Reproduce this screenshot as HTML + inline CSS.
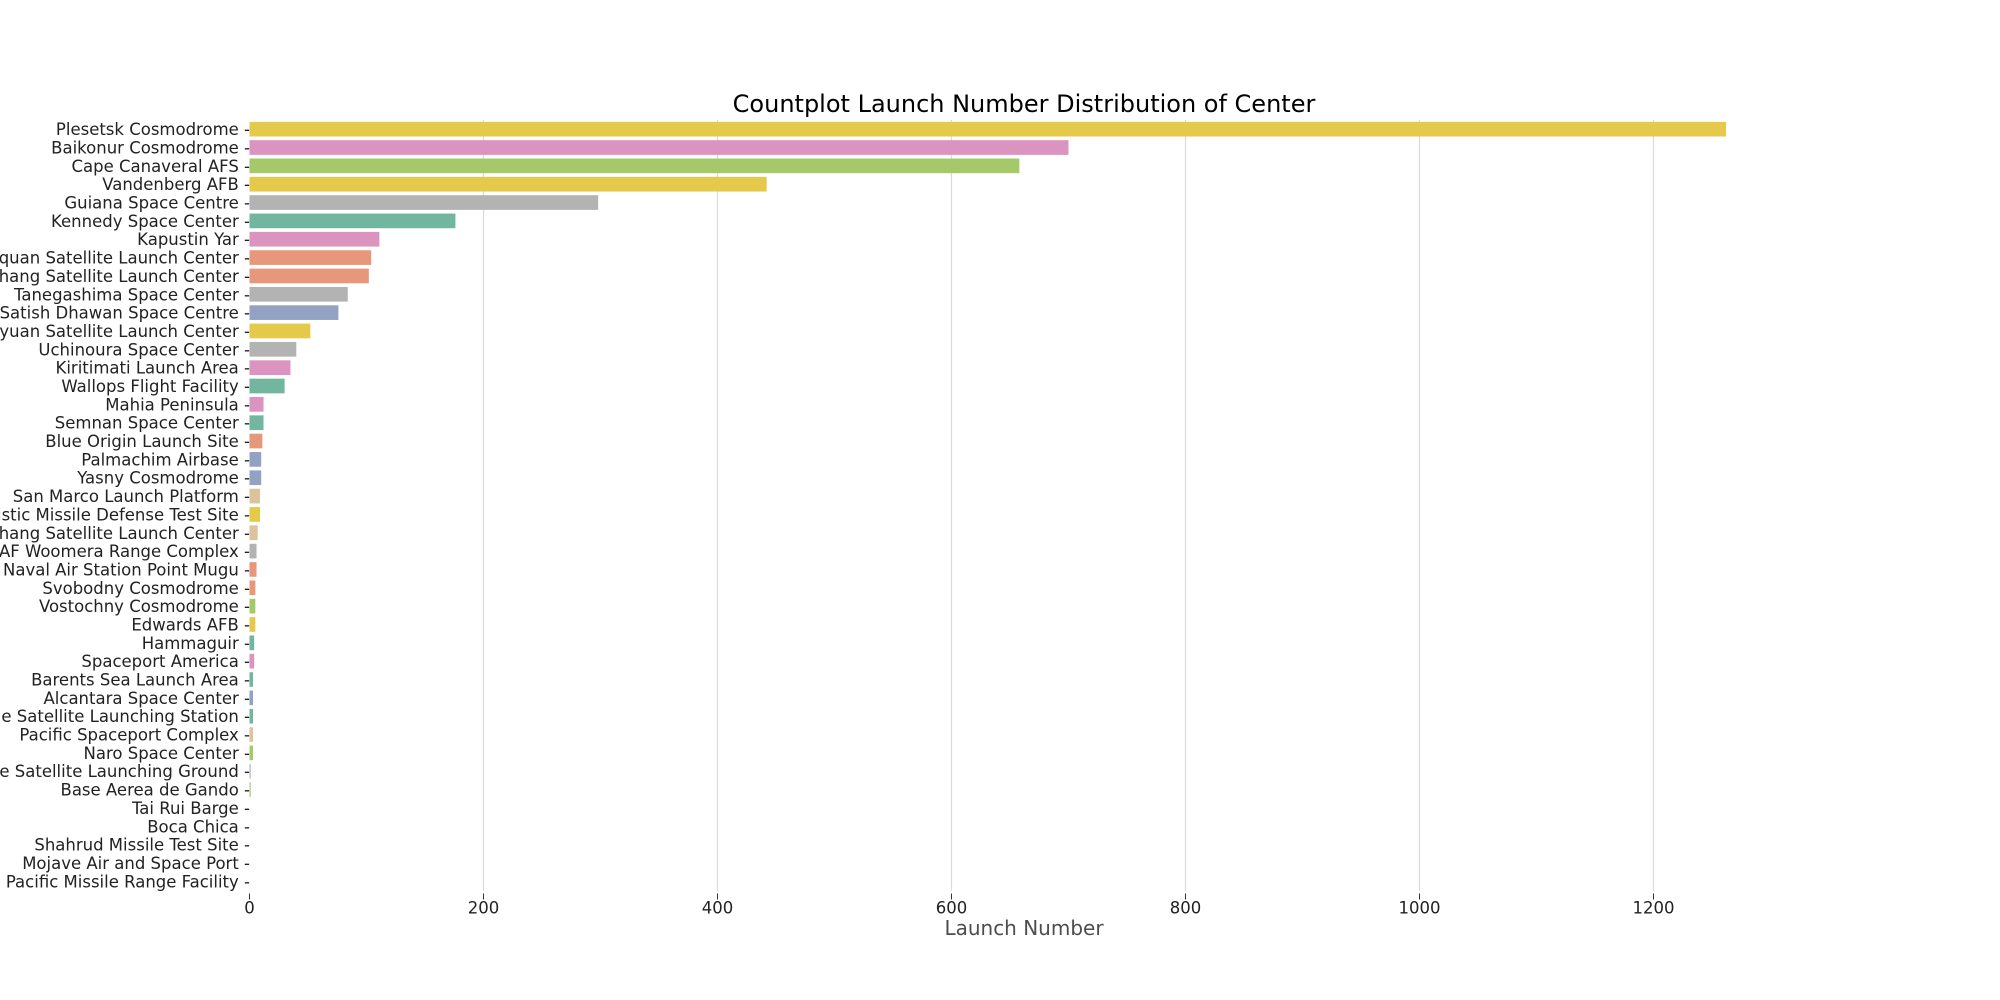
<!DOCTYPE html>
<html><head><meta charset="utf-8"><style>
html,body{margin:0;padding:0;background:#fff;}
svg{display:block;font-family:"DejaVu Sans","Liberation Sans",sans-serif;}
</style></head><body>
<svg id="chart" width="2000" height="1000" viewBox="0 0 2000 1000" xmlns="http://www.w3.org/2000/svg">
<text x="1024" y="112" font-size="24" text-anchor="middle" fill="#000">Countplot Launch Number Distribution of Center</text>
<g id="grid"></g><g id="bars"></g><g id="ylabels"></g><g id="xticks"></g>
<text x="1024" y="935" font-size="20" text-anchor="middle" fill="#4d4d4d">Launch Number</text>
</svg>
<script>
const categories = ["Plesetsk Cosmodrome","Baikonur Cosmodrome","Cape Canaveral AFS","Vandenberg AFB","Guiana Space Centre","Kennedy Space Center","Kapustin Yar","Jiuquan Satellite Launch Center","Xichang Satellite Launch Center","Tanegashima Space Center","Satish Dhawan Space Centre","Taiyuan Satellite Launch Center","Uchinoura Space Center","Kiritimati Launch Area","Wallops Flight Facility","Mahia Peninsula","Semnan Space Center","Blue Origin Launch Site","Palmachim Airbase","Yasny Cosmodrome","San Marco Launch Platform","Ronald Reagan Ballistic Missile Defense Test Site","Wenchang Satellite Launch Center","RAAF Woomera Range Complex","Naval Air Station Point Mugu","Svobodny Cosmodrome","Vostochny Cosmodrome","Edwards AFB","Hammaguir","Spaceport America","Barents Sea Launch Area","Alcantara Space Center","Sohae Satellite Launching Station","Pacific Spaceport Complex","Naro Space Center","Tonghae Satellite Launching Ground","Base Aerea de Gando","Tai Rui Barge","Boca Chica","Shahrud Missile Test Site","Mojave Air and Space Port","Pacific Missile Range Facility"];
const counts = [1262,700,658,442,298,176,111,104,102,84,76,52,40,35,30,12,12,11,10,10,9,9,7,6,6,5,5,5,4,4,3,3,3,3,3,1,1,0,0,0,0,0];
const barColors = ["#e4c94a","#db93bf","#a5c868","#e4c94a","#b3b3b3","#72b6a0","#db93bf","#e8987a","#e8987a","#b3b3b3","#93a2c3","#e4c94a","#b3b3b3","#db93bf","#72b6a0","#db93bf","#72b6a0","#e8987a","#93a2c3","#93a2c3","#dcc39c","#e4c94a","#dcc39c","#b3b3b3","#e8987a","#e8987a","#a5c868","#e4c94a","#72b6a0","#db93bf","#72b6a0","#93a2c3","#72b6a0","#dcc39c","#a5c868","#b3b3b3","#a5c868","#b3b3b3","#b3b3b3","#b3b3b3","#b3b3b3","#b3b3b3"];
const xTicks = [0,200,400,600,800,1000,1200];

const NS="http://www.w3.org/2000/svg";
const X0=249.5, PXU=1.17, TOP=120, STEP=18.345, AXB=TOP+STEP*categories.length;
const xs=v=>X0+v*PXU;
const ys=i=>TOP+STEP*(i+0.5);
function mk(tag,attrs,parent){const e=document.createElementNS(NS,tag);for(const k in attrs)e.setAttribute(k,attrs[k]);parent.appendChild(e);return e;}
const grid=document.getElementById('grid'),bars=document.getElementById('bars'),yl=document.getElementById('ylabels'),xt=document.getElementById('xticks');
xTicks.forEach(t=>{
  if(t>0){const g=mk('line',{x1:xs(t),x2:xs(t),y1:TOP,y2:AXB,stroke:'#d9d9d9','stroke-width':1.2},grid);
  
  }
  const tk=mk('line',{x1:xs(t),x2:xs(t),y1:AXB+3,y2:AXB+9,stroke:'#333','stroke-width':1},xt);
  
  
  const tl=mk('text',{x:xs(t),y:AXB+23,'font-size':16.5,'text-anchor':'middle',fill:'#222'},xt);
  tl.textContent=t;
  
  
});
categories.forEach((c,i)=>{
  const h=STEP*0.8;
  const r=mk('rect',{x:xs(0),y:ys(i)-h/2,width:Math.max(0,xs(counts[i])-xs(0)),height:h,fill:barColors[i]},bars);
  
  
  const l=mk('text',{x:250,y:ys(i)+6,'font-size':16.5,'text-anchor':'end',fill:'#222'},yl);
  l.textContent=c+' -';
  
  
});
</script>
</body></html>
